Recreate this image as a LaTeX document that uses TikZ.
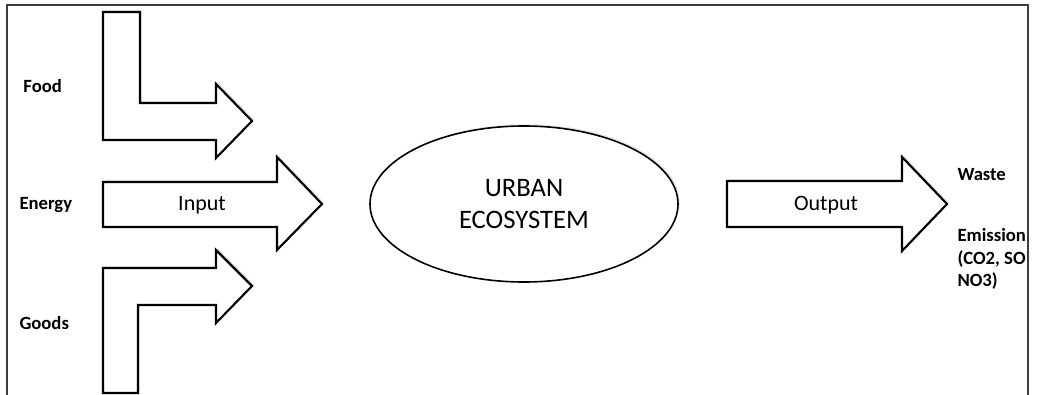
\documentclass[tikz,border=0pt]{standalone}
\usepackage{fontspec}
\setmainfont{Carlito}
\usetikzlibrary{shapes.geometric,shadows}

\tikzset{every picture/.style={line width=0.75pt}}
\tikzset{
  blockarrow/.style={draw=black, line width=1.6pt, fill=white, line join=miter,
    drop shadow={shadow xshift=1.3pt, shadow yshift=1.3pt, opacity=0.22}},
  sidelabel/.style={font=\bfseries\fontsize{14}{17}\selectfont},
  arrowlabel/.style={font=\fontsize{16.5}{20}\selectfont}
}

\begin{document}
\begin{tikzpicture}[x=0.75pt,y=0.75pt,yscale=-1,xscale=1]
\path [use as bounding box] (0,0) rectangle (1038,395);

%Frame
\draw [color={rgb, 255:red, 60; green, 60; blue, 60 }, line width=1.2pt] (7,396) -- (7,5) -- (1028,5) -- (1028,396) ;

%Bent arrow (food)
\draw [blockarrow] (103,12) -- (140,12) -- (140,103) -- (216,103) -- (216,84) -- (252,121) -- (216,158) -- (216,140) -- (103,140) -- cycle ;
%Straight arrow (energy)
\draw [blockarrow] (103,182) -- (277,182) -- (277,157) -- (322,204) -- (277,250) -- (277,227) -- (103,227) -- cycle ;
%Bent arrow (goods)
\draw [blockarrow] (103,393) -- (103,268) -- (216,268) -- (216,250) -- (252,286) -- (216,323) -- (216,305) -- (138,305) -- (138,393) -- cycle ;
%Straight arrow (output)
\draw [blockarrow] (727,181) -- (902,181) -- (902,157) -- (947,204) -- (902,251) -- (902,227) -- (727,227) -- cycle ;

%Ellipse
\draw (524,204) node (eco) [ellipse, draw=black, line width=1.2pt, fill=white, minimum width=231pt, minimum height=117pt, align=center, font=\fontsize{20}{24}\selectfont,
  drop shadow={shadow xshift=1.3pt, shadow yshift=1.3pt, opacity=0.2}] {URBAN\\ECOSYSTEM};

% Text Node
\draw (22,86) node (food) [anchor=west][inner sep=0.75pt][sidelabel] {Food};
% Text Node
\draw (18,205) node (energy) [anchor=west][inner sep=0.75pt][sidelabel] {Energy};
% Text Node
\draw (18,323) node (goods) [anchor=west][inner sep=0.75pt][sidelabel] {Goods};
% Text Node
\draw (202,205) node (input) [inner sep=0.75pt][arrowlabel] {Input};
% Text Node
\draw (826,205) node (output) [inner sep=0.75pt][arrowlabel] {Output};
% Text Node
\draw (956,175) node (waste) [anchor=west][inner sep=0.75pt][sidelabel] {Waste};
% Text Node
\draw (956,259) node (emission) [anchor=west][inner sep=0.75pt][sidelabel, align=left] {Emission\\(CO2, SO\\NO3)};

\end{tikzpicture}
\end{document}
